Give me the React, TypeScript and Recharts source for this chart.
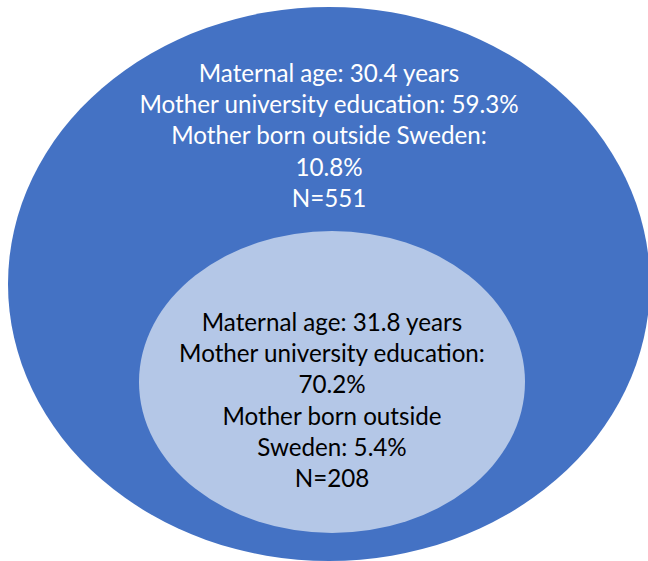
import { ScatterChart, Scatter, XAxis, YAxis } from "recharts";

// cohort statistics (outer = full cohort, inner = subsample)
const groups = ["Full cohort", "Subsample"];
const maternalAge = [30.4, 31.8];
const universityEducation = [59.3, 70.2];
const bornOutsideSweden = [10.8, 5.4];
const sampleN = [551, 208];

const W = 648;
const H = 561;
const FONT = "Lato, 'Open Sans', sans-serif";
const LINE_H = 31.2;

// ellipse layout, in chart units (1 unit = 1px)
const LAYOUT = [
  { cx: 329, cy: 284, rx: 321, ry: 277, fill: "#4472C4", text: "#ffffff", firstBaseline: 82 },
  { cx: 332, cy: 382, rx: 193, ry: 151, fill: "#B4C7E7", text: "#000000", firstBaseline: 331 },
];

function linesFor(i: number): string[] {
  const age = `Maternal age: ${maternalAge[i].toFixed(1)} years`;
  const edu = `Mother university education:`;
  const eduV = `${universityEducation[i].toFixed(1)}%`;
  const n = `N=${sampleN[i]}`;
  if (i === 0) {
    return [age, `${edu} ${eduV}`, "Mother born outside Sweden:", `${bornOutsideSweden[i].toFixed(1)}%`, n];
  }
  return [age, edu, eduV, "Mother born outside", `Sweden: ${bornOutsideSweden[i].toFixed(1)}%`, n];
}

const data = groups.map((g, i) => ({
  name: g,
  x: LAYOUT[i].cx,
  y: LAYOUT[i].cy,
  idx: i,
}));

function EllipseShape(props: any) {
  const { cx, cy, payload } = props;
  const i = payload.idx;
  const l = LAYOUT[i];
  const lines = linesFor(i);
  const top = cy - l.cy; // chart offset (0 with no margins)
  return (
    <g>
      <ellipse cx={cx} cy={cy} rx={l.rx} ry={l.ry} fill={l.fill} />
      <text textAnchor="middle" fontFamily={FONT} fontSize={24.2} fill={l.text}>
        {lines.map((s, k) => (
          <tspan key={k} x={cx} y={top + l.firstBaseline + k * LINE_H}>
            {s}
          </tspan>
        ))}
      </text>
    </g>
  );
}

export default function App() {
  return (
    <div style={{ position: "absolute", left: 0, top: 0, width: W, height: H, background: "#fff" }}>
      <ScatterChart width={W} height={H} margin={{ top: 0, right: 0, bottom: 0, left: 0 }}>
        <XAxis type="number" dataKey="x" domain={[0, W]} hide />
        <YAxis type="number" dataKey="y" domain={[0, H]} reversed hide />
        <Scatter data={data} shape={EllipseShape} isAnimationActive={false} />
      </ScatterChart>
    </div>
  );
}
